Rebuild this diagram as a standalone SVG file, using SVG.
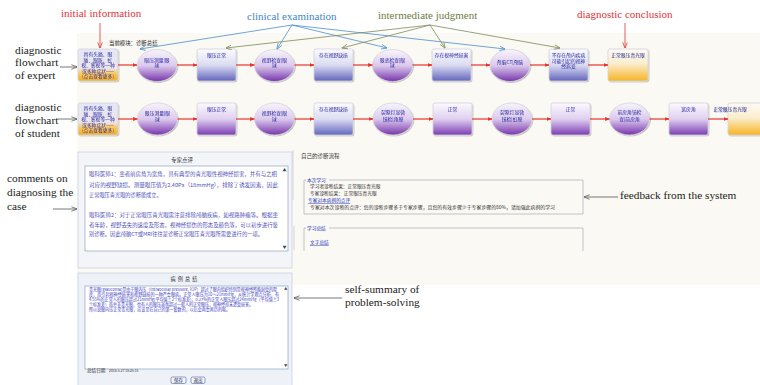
<svg xmlns="http://www.w3.org/2000/svg" width="760" height="385" viewBox="0 0 760 385">
<style>
.lbl{font-family:"Liberation Serif","Times New Roman",serif;font-size:11.3px;fill:#222}
.ann{font-family:"Liberation Serif","Times New Roman",serif;font-size:11px}
.nt{font-family:"Noto Sans CJK SC","Noto Sans",sans-serif;font-size:4.8px;fill:#2b2ba0;text-anchor:middle}
.cj{font-family:"Noto Sans CJK SC","Noto Sans",sans-serif}
.rb{stroke:#d4d4dc;stroke-width:0.8}
.red{stroke:#e8322e;stroke-width:1.2;fill:none}
.gry{stroke:#555;stroke-width:0.8;fill:none}
.blu{stroke:#4a8ed0;stroke-width:0.8;fill:none}
.olv{stroke:#7d8a55;stroke-width:0.8;fill:none}
.cmt{font-size:5.2px;fill:#5050b8}
.sum{font-size:4.2px;fill:#3a3ac0}
.fb{font-size:4.7px;fill:#333}
.lnk{font-size:4.7px;fill:#2233bb}
</style>
<defs>
<linearGradient id="gR" x1="0" y1="0" x2="0" y2="1"><stop offset="0" stop-color="#fbfbff"/><stop offset="0.5" stop-color="#dcdcf2"/><stop offset="1" stop-color="#6366be"/></linearGradient>
<linearGradient id="gP" x1="0" y1="0" x2="0" y2="1"><stop offset="0" stop-color="#fcf9ff"/><stop offset="0.5" stop-color="#e0d0f0"/><stop offset="1" stop-color="#7b3cb2"/></linearGradient>
<linearGradient id="gE" x1="0" y1="0" x2="0" y2="1"><stop offset="0" stop-color="#f8f4fc"/><stop offset="0.5" stop-color="#dccaee"/><stop offset="1" stop-color="#7634ab"/></linearGradient>
<linearGradient id="gO" x1="0" y1="0" x2="0" y2="1"><stop offset="0" stop-color="#fdfbf4"/><stop offset="0.45" stop-color="#fbeed0"/><stop offset="1" stop-color="#f7b424"/></linearGradient>
<linearGradient id="gI" x1="0" y1="0" x2="0" y2="1"><stop offset="0" stop-color="#e4e6f8"/><stop offset="0.6" stop-color="#ece6ea"/><stop offset="0.78" stop-color="#f8c65a"/><stop offset="1" stop-color="#f4ad22"/></linearGradient>
<filter id="sh" x="-20%" y="-20%" width="140%" height="140%"><feDropShadow dx="0.8" dy="0.8" stdDeviation="0.7" flood-color="#000" flood-opacity="0.28"/></filter>
<marker id="mR" viewBox="0 0 6 6" refX="5.5" refY="3" markerWidth="4" markerHeight="4" orient="auto"><path d="M0,0.5 L6,3 L0,5.5 Z" fill="#e8322e"/></marker>
<marker id="mG" viewBox="0 0 8 8" refX="7.5" refY="4" markerWidth="6" markerHeight="6" orient="auto" markerUnits="userSpaceOnUse"><path d="M0,1 L8,4 L0,7" fill="none" stroke="#555" stroke-width="1"/></marker>
<marker id="mB" viewBox="0 0 8 8" refX="7.5" refY="4" markerWidth="6" markerHeight="6" orient="auto" markerUnits="userSpaceOnUse"><path d="M0,1 L8,4 L0,7" fill="none" stroke="#4a8ed0" stroke-width="1"/></marker>
<marker id="mO" viewBox="0 0 8 8" refX="7.5" refY="4" markerWidth="6" markerHeight="6" orient="auto" markerUnits="userSpaceOnUse"><path d="M0,1 L8,4 L0,7" fill="none" stroke="#7d8a55" stroke-width="1"/></marker>
<marker id="mA" viewBox="0 0 8 8" refX="7.5" refY="4" markerWidth="6" markerHeight="6" orient="auto" markerUnits="userSpaceOnUse"><path d="M0,1 L8,4 L0,7" fill="none" stroke="#e8322e" stroke-width="1"/></marker>
</defs>
<rect width="760" height="385" fill="#fff"/>
<rect x="77" y="33" width="683" height="252" fill="#fbf9f3"/>
<text class="cj" x="109" y="45" font-size="5.4" fill="#222">当前模块：诊断总结</text>

<g id="labels">
<text class="ann" x="61" y="17" fill="#e0323a">initial information</text>
<text class="ann" x="247" y="20" fill="#3f86c8">clinical examination</text>
<text class="ann" x="378" y="19" fill="#6f7d45">intermediate judgment</text>
<text class="ann" x="577" y="18" fill="#e0323a">diagnostic conclusion</text>
<text class="lbl" x="15" y="54">diagnostic</text>
<text class="lbl" x="15" y="66">flowchart</text>
<text class="lbl" x="15" y="79">of expert</text>
<text class="lbl" x="15" y="111">diagnostic</text>
<text class="lbl" x="15" y="124">flowchart</text>
<text class="lbl" x="15" y="137">of student</text>
<text class="lbl" x="7" y="182">comments on</text>
<text class="lbl" x="7" y="196">diagnosing the</text>
<text class="lbl" x="7" y="210">case</text>
<text class="lbl" x="620" y="199">feedback from the system</text>
<text class="lbl" x="345" y="293">self-summary of</text>
<text class="lbl" x="345" y="306">problem-solving</text>
</g>

<g id="expert-row">
<g id="e1" filter="url(#sh)"><rect x="78" y="49" width="40" height="32" rx="2" fill="url(#gI)" class="rb"/>
<text class="nt" x="98" y="56">具有头痛、眼</text><text class="nt" x="98" y="61.5">痛、眼胀、虹</text><text class="nt" x="98" y="67">视、雾视等一种</text><text class="nt" x="98" y="72.5">或多种症状——</text><text class="nt" x="98" y="78" font-size="3.8">(点击查看更多)</text></g>
<g id="e2" filter="url(#sh)"><ellipse cx="157" cy="65.5" rx="20" ry="16" fill="url(#gE)" class="rb"/><text class="nt" x="157" y="61.5">眼压测量|眼</text><text class="nt" x="157" y="67">球</text></g>
<g id="e3" filter="url(#sh)"><rect x="197" y="49" width="39" height="32" rx="2" fill="url(#gR)" class="rb"/><text class="nt" x="216.5" y="57">眼压正常</text></g>
<g id="e4" filter="url(#sh)"><ellipse cx="274.5" cy="65.5" rx="20" ry="16" fill="url(#gE)" class="rb"/><text class="nt" x="274.5" y="61.5">视野检查|眼</text><text class="nt" x="274.5" y="67">球</text></g>
<g id="e5" filter="url(#sh)"><rect x="314" y="49" width="39" height="32" rx="2" fill="url(#gR)" class="rb"/><text class="nt" x="333.5" y="57">存在视野缺损</text></g>
<g id="e6" filter="url(#sh)"><ellipse cx="392.5" cy="65.5" rx="20" ry="16" fill="url(#gE)" class="rb"/><text class="nt" x="392.5" y="61.5">眼底检查|眼</text><text class="nt" x="392.5" y="67">球</text></g>
<g id="e7" filter="url(#sh)"><rect x="432" y="49" width="39" height="32" rx="2" fill="url(#gR)" class="rb"/><text class="nt" x="451.5" y="57">存在视神经损害</text></g>
<g id="e8" filter="url(#sh)"><ellipse cx="510" cy="65.5" rx="20" ry="16" fill="url(#gE)" class="rb"/><text class="nt" x="510" y="64">颅脑CT|颅脑</text></g>
<g id="e9" filter="url(#sh)"><rect x="549" y="49" width="39" height="32" rx="2" fill="url(#gR)" class="rb"/><text class="nt" x="568.5" y="57">不存在颅内疾病</text><text class="nt" x="568.5" y="62.5">可能引起的视神</text><text class="nt" x="568.5" y="68">经病变</text></g>
<g id="e10" filter="url(#sh)"><rect x="608" y="49" width="40" height="32" rx="2" fill="url(#gO)" class="rb"/><text class="nt" x="628" y="57">正常眼压青光眼</text></g>
</g>

<g id="student-row">
<g id="s1" filter="url(#sh)"><rect x="78" y="103" width="40" height="32" rx="2" fill="url(#gI)" class="rb"/>
<text class="nt" x="98" y="110">具有头痛、眼</text><text class="nt" x="98" y="115.5">痛、眼胀、虹</text><text class="nt" x="98" y="121">视、雾视等一种</text><text class="nt" x="98" y="126.5">或多种症状——</text><text class="nt" x="98" y="132" font-size="3.8">(点击查看更多)</text></g>
<g id="s2" filter="url(#sh)"><ellipse cx="157.5" cy="119" rx="20" ry="16" fill="url(#gE)" class="rb"/><text class="nt" x="157.5" y="115">眼压测量|眼</text><text class="nt" x="157.5" y="120.5">球</text></g>
<g id="s3" filter="url(#sh)"><rect x="197" y="103" width="39" height="32" rx="2" fill="url(#gP)" class="rb"/><text class="nt" x="216.5" y="111">眼压正常</text></g>
<g id="s4" filter="url(#sh)"><ellipse cx="274.5" cy="119" rx="20" ry="16" fill="url(#gE)" class="rb"/><text class="nt" x="274.5" y="115">视野检查|眼</text><text class="nt" x="274.5" y="120.5">球</text></g>
<g id="s5" filter="url(#sh)"><rect x="314" y="103" width="39" height="32" rx="2" fill="url(#gR)" class="rb"/><text class="nt" x="333.5" y="111">存在视野缺损</text></g>
<g id="s6" filter="url(#sh)"><ellipse cx="393" cy="119" rx="20" ry="16" fill="url(#gE)" class="rb"/><text class="nt" x="393" y="114">裂隙灯显微</text><text class="nt" x="393" y="120.5">镜检|角膜</text></g>
<g id="s7" filter="url(#sh)"><rect x="433" y="103" width="39" height="32" rx="2" fill="url(#gP)" class="rb"/><text class="nt" x="452.5" y="111">正常</text></g>
<g id="s8" filter="url(#sh)"><ellipse cx="512" cy="119" rx="20" ry="16" fill="url(#gE)" class="rb"/><text class="nt" x="512" y="114">裂隙灯显微</text><text class="nt" x="512" y="120.5">镜检|虹膜</text></g>
<g id="s9" filter="url(#sh)"><rect x="551" y="103" width="39" height="32" rx="2" fill="url(#gP)" class="rb"/><text class="nt" x="570.5" y="111">正常</text></g>
<g id="s10" filter="url(#sh)"><ellipse cx="629.5" cy="119" rx="20" ry="16" fill="url(#gE)" class="rb"/><text class="nt" x="629.5" y="114">前房角镜检</text><text class="nt" x="629.5" y="120.5">查|前房角</text></g>
<g id="s11" filter="url(#sh)"><rect x="669" y="103" width="39" height="32" rx="2" fill="url(#gP)" class="rb"/><text class="nt" x="688.5" y="111">宽房角</text></g>
<g id="s12" filter="url(#sh)"><rect x="728" y="103" width="40" height="32" rx="2" fill="url(#gO)" class="rb"/><text class="nt" x="730" y="111" font-size="4.1" text-anchor="start">正常眼压青光眼</text></g>
</g>

<g id="connectors">
<line class="red" x1="118" y1="65" x2="137" y2="65" marker-end="url(#mR)"/>
<line class="red" x1="177" y1="65" x2="197" y2="65" marker-end="url(#mR)"/>
<line class="red" x1="236" y1="65" x2="254.5" y2="65" marker-end="url(#mR)"/>
<line class="red" x1="294.5" y1="65" x2="314" y2="65" marker-end="url(#mR)"/>
<line class="red" x1="353" y1="65" x2="372.5" y2="65" marker-end="url(#mR)"/>
<line class="red" x1="412.5" y1="65" x2="432" y2="65" marker-end="url(#mR)"/>
<line class="red" x1="471" y1="65" x2="490" y2="65" marker-end="url(#mR)"/>
<line class="red" x1="530" y1="65" x2="549" y2="65" marker-end="url(#mR)"/>
<line class="red" x1="588" y1="65" x2="608" y2="65" marker-end="url(#mR)"/>
<line class="red" x1="118" y1="119" x2="137.5" y2="119" marker-end="url(#mR)"/>
<line class="red" x1="177.5" y1="119" x2="197" y2="119" marker-end="url(#mR)"/>
<line class="red" x1="236" y1="119" x2="254.5" y2="119" marker-end="url(#mR)"/>
<line class="red" x1="294.5" y1="119" x2="314" y2="119" marker-end="url(#mR)"/>
<line class="red" x1="353" y1="119" x2="373" y2="119" marker-end="url(#mR)"/>
<line class="red" x1="413" y1="119" x2="433" y2="119" marker-end="url(#mR)"/>
<line class="red" x1="472" y1="119" x2="492" y2="119" marker-end="url(#mR)"/>
<line class="red" x1="532" y1="119" x2="551" y2="119" marker-end="url(#mR)"/>
<line class="red" x1="590" y1="119" x2="609.5" y2="119" marker-end="url(#mR)"/>
<line class="red" x1="649.5" y1="119" x2="669" y2="119" marker-end="url(#mR)"/>
<line class="red" x1="708" y1="119" x2="728" y2="119" marker-end="url(#mR)"/>
<line x1="100" y1="23" x2="100" y2="48" stroke="#e8322e" stroke-width="0.8" marker-end="url(#mA)"/>
<line x1="625" y1="23" x2="625" y2="48" stroke="#e8322e" stroke-width="0.8" marker-end="url(#mA)"/>
<line class="blu" x1="292" y1="25" x2="140" y2="49" marker-end="url(#mB)"/>
<line class="blu" x1="292" y1="25" x2="277" y2="49" marker-end="url(#mB)"/>
<line class="blu" x1="292" y1="25" x2="387" y2="48" marker-end="url(#mB)"/>
<line class="blu" x1="292" y1="25" x2="505" y2="49" marker-end="url(#mB)"/>
<line class="olv" x1="430" y1="25" x2="226" y2="48" marker-end="url(#mO)"/>
<line class="olv" x1="430" y1="25" x2="342" y2="48" marker-end="url(#mO)"/>
<line class="olv" x1="430" y1="25" x2="445" y2="48" marker-end="url(#mO)"/>
<line class="olv" x1="430" y1="25" x2="560" y2="48" marker-end="url(#mO)"/>
<line class="gry" x1="60" y1="67" x2="77" y2="67" marker-end="url(#mG)"/>
<line class="gry" x1="58" y1="119" x2="77" y2="119" marker-end="url(#mG)"/>
<line class="gry" x1="53" y1="209" x2="77" y2="209" marker-end="url(#mG)"/>
<line class="gry" x1="618" y1="197" x2="584" y2="197" marker-end="url(#mG)"/>
<line class="gry" x1="342" y1="298" x2="294" y2="298" marker-end="url(#mG)"/>
</g>

<g id="comments-panel">
<rect x="78" y="152" width="214" height="116" fill="#f3f5f9" stroke="#c9d3e0" stroke-width="0.8"/>
<text class="cj" x="182" y="162" font-size="5.5" fill="#333" text-anchor="middle">专家点评</text>
<rect x="85" y="166" width="203" height="85" fill="#fff" stroke="#8fa4c0" stroke-width="0.7"/>
<text class="cj" x="282.5" y="172" font-size="4" fill="#445">▲</text>
<text class="cj" x="282.5" y="249" font-size="4" fill="#445">▼</text>
<text class="cj cmt" x="89" y="176" textLength="188" lengthAdjust="spacingAndGlyphs">眼科医师1：患者前房角为宽角，具有典型的青光眼性视神经损害，并有与之相</text>
<text class="cj cmt" x="89" y="187" textLength="189" lengthAdjust="spacingAndGlyphs">对应的视野缺损。测量眼压值为2.40Pa（18mmHg），排除了诱发因素，因此</text>
<text class="cj cmt" x="89" y="197">正常眼压青光眼的诊断能成立。</text>
<text class="cj cmt" x="89" y="217" textLength="189" lengthAdjust="spacingAndGlyphs">眼科医师2：对于正常眼压青光眼需注意排除颅脑疾病，如视路肿瘤等。根据患</text>
<text class="cj cmt" x="89" y="227" textLength="189" lengthAdjust="spacingAndGlyphs">者年龄，视野丢失的速度及形态，视神经损伤的形态及颜色等，可以初步进行鉴</text>
<text class="cj cmt" x="89" y="236" textLength="174" lengthAdjust="spacingAndGlyphs">别诊断。因此颅脑CT或MRI往往是诊断正常眼压青光眼所需要进行的一项。</text>
</g>

<g id="feedback-panel">
<line x1="293" y1="150" x2="293" y2="200" stroke="#c8ccd4" stroke-width="0.8"/>
<line x1="294" y1="226" x2="294" y2="250" stroke="#c8ccd4" stroke-width="0.8"/>
<text class="cj" x="301" y="158" font-size="5.5" fill="#333">自己的诊断流程</text>
<path d="M306,180 H304 V214 H583 V180 H329" fill="none" stroke="#a8acb4" stroke-width="0.7"/>
<text class="cj lnk" x="307" y="182">本次学习</text>
<text class="cj fb" x="310" y="188">学习者诊断结果：正常眼压青光眼</text>
<text class="cj fb" x="310" y="195">专家诊断结果：  正常眼压青光眼</text>
<text class="cj lnk" x="308" y="202" text-decoration="underline">专家对本病例的点评</text>
<text class="cj fb" x="310" y="209" textLength="245" lengthAdjust="spacingAndGlyphs">专家对本次诊断的点评：您的诊断步骤多于专家步骤，且您的有效步骤少于专家步骤的80%，请加强此病例的学习</text>
<path d="M306,228 H304 V251 M583,251 V228 H329" fill="none" stroke="#a8acb4" stroke-width="0.7"/>
<text class="cj lnk" x="307" y="230">学习总结</text>
<text class="cj lnk" x="310" y="244" text-decoration="underline">文字总结</text>
</g>

<g id="summary-panel">
<rect x="78" y="273" width="214" height="115" fill="#eef2f8" stroke="#c9d3e0" stroke-width="0.8"/>
<text class="cj" x="185" y="281" font-size="5.2" fill="#333" text-anchor="middle" letter-spacing="2">病例总结</text>
<rect x="85" y="286" width="203" height="83" fill="#fff" stroke="#8fa4c0" stroke-width="0.7"/>
<text class="cj" x="284" y="290" font-size="3.4" fill="#445">▲</text>
<text class="cj" x="284" y="367" font-size="3.4" fill="#445">▼</text>
<text class="cj sum" x="89" y="291" textLength="188" lengthAdjust="spacingAndGlyphs">青光眼(glaucoma)是由于眼内压（intraocular pressure, IOP）超过了眼内组织特别是视神经所能耐受的程</text>
<text class="cj sum" x="89" y="296" textLength="190" lengthAdjust="spacingAndGlyphs">度，而引起视神经损害和视野缺损的一种严重眼病。正常人眼压为10～21mmHg，从统计学观点分析，有</text>
<text class="cj sum" x="89" y="301" textLength="190" lengthAdjust="spacingAndGlyphs">4.55%的正常人的眼压超过21mmHg(平均值±2个标准差)，0.27%的正常人眼压超过24mmHg（平均值±3</text>
<text class="cj sum" x="89" y="306" textLength="164" lengthAdjust="spacingAndGlyphs">个标准差）而并非青光眼，也有人的眼压虽然超过一般人的正常眼压，视神经却未遭受损害。</text>
<text class="cj sum" x="89" y="311" textLength="141" lengthAdjust="spacingAndGlyphs">所以说眼内压正常青光眼，应该是在自己的第一套数的，以后会再重再历的呢。</text>
<text class="cj" x="87" y="372" font-size="4.6" fill="#333">总结日期</text>
<text class="cj" x="109" y="371.5" font-size="3.4" fill="#333">2016-5-27 16:25:15</text>
<rect x="171" y="377" width="15" height="6.5" rx="1.5" fill="#f4f6fb" stroke="#4a5fb0" stroke-width="0.6"/>
<text class="cj" x="178.5" y="382.3" font-size="4.5" fill="#223" text-anchor="middle">保存</text>
<rect x="191" y="377" width="14" height="6.5" rx="1.5" fill="#f4f6fb" stroke="#4a5fb0" stroke-width="0.6"/>
<text class="cj" x="198" y="382.3" font-size="4.5" fill="#223" text-anchor="middle">退出</text>
</g>
</svg>
